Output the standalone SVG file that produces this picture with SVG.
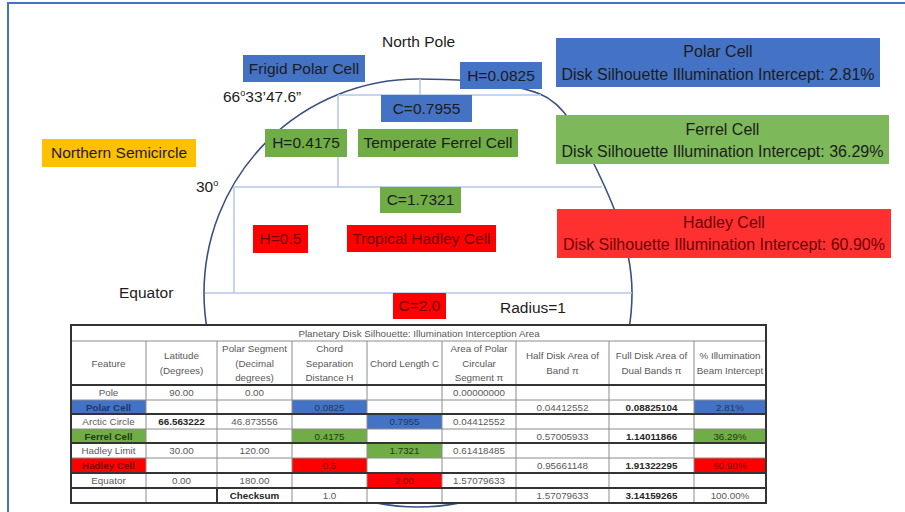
<svg xmlns="http://www.w3.org/2000/svg" width="905" height="512" viewBox="0 0 905 512">
<defs>
<style>
.t{font-family:"Liberation Sans",Arial,sans-serif;font-size:15.5px;fill:#1c1c1c;text-anchor:middle}
.tl{font-family:"Liberation Sans",Arial,sans-serif;font-size:15.5px;fill:#1c1c1c}
.big{font-size:16px}
.dr{fill:#6e0000}
.blue{fill:#4472C4}
.green{fill:#70AD47}
.lgreen{fill:#7DB85A}
.red{fill:#FF0000}
.lred{fill:#FF3030}
.yellow{fill:#FFC000}
.grid{stroke:#B4C7E7;stroke-width:1.5;fill:none}
.tb{font-family:"Liberation Sans",Arial,sans-serif;font-size:9.8px;fill:#595959;text-anchor:middle}
.b{font-weight:bold;fill:#262626}
.thin{stroke:#8c8c8c;stroke-width:1;fill:none}
.thick{stroke:#333;stroke-width:2;fill:none}
</style>
</defs>
<rect x="0" y="0" width="905" height="512" fill="#fff"/>
<path d="M8,512 V3 H905" fill="none" stroke="#4472C4" stroke-width="2"/>

<g id="connectors">
<path d="M418,79 C470,79 515,84 540,94 C565,104 580,135 592,160 C612,200 632,245 632,293 A214,214 0 0 1 418,507 A214,214 0 0 1 204,293 A214,214 0 0 1 418,79 Z" fill="none" stroke="#3A5081" stroke-width="1.6"/>
<path class="grid" d="M420,79 V95 M338,95 H541 M338,95 V187 M233,187 H602 M234,187 V293 M205,293 H632"/>
</g>

<g id="north-pole"><text class="tl" x="382" y="47">North Pole</text></g>
<g id="frigid-polar-cell"><rect class="blue" x="243" y="55" width="122" height="27"/><text class="t" x="304" y="74">Frigid Polar Cell</text></g>
<g id="arctic-angle"><text class="tl" x="223" y="102">66<tspan font-size="9" dy="-6">o</tspan><tspan dy="6">33’47.6”</tspan></text></g>
<g id="h-polar"><rect class="blue" x="460" y="62" width="82" height="27"/><text class="t" x="501" y="81">H=0.0825</text></g>
<g id="c-polar"><rect class="blue" x="381" y="95" width="91" height="27"/><text class="t" x="426.5" y="114">C=0.7955</text></g>
<g id="h-ferrel"><rect class="green" x="265" y="129" width="82" height="28"/><text class="t" x="306" y="148">H=0.4175</text></g>
<g id="temperate-ferrel"><rect class="green" x="358" y="129" width="160" height="28"/><text class="t" x="438" y="148">Temperate Ferrel Cell</text></g>
<g id="northern-semicircle"><rect class="yellow" x="42" y="139" width="154" height="28"/><text class="t" x="119" y="158">Northern Semicircle</text></g>
<g id="thirty"><text class="tl" x="196" y="192">30<tspan font-size="9" dy="-6">o</tspan></text></g>
<g id="c-ferrel"><rect class="green" x="380" y="187" width="81" height="26"/><text class="t" x="420.5" y="205">C=1.7321</text></g>
<g id="h-hadley"><rect class="red" x="253" y="225" width="55" height="28"/><text class="t dr" x="280.5" y="244">H=0.5</text></g>
<g id="tropical-hadley"><rect class="red" x="347" y="225" width="149" height="27"/><text class="t dr" x="421.5" y="244">Tropical Hadley Cell</text></g>
<g id="equator"><text class="tl" x="119" y="298">Equator</text></g>
<g id="c-hadley"><rect class="red" x="393" y="293" width="53" height="26"/><text class="t dr" x="419.5" y="311">C=2.0</text></g>
<g id="radius"><text class="tl" x="500" y="313">Radius=1</text></g>

<g id="polar-cell-summary"><rect class="blue" x="556" y="38" width="324" height="49"/><text class="t big" x="718" y="57">Polar Cell</text><text class="t big" x="718" y="80">Disk Silhouette Illumination Intercept: 2.81%</text></g>
<g id="ferrel-cell-summary"><rect class="lgreen" x="556" y="115" width="333" height="49"/><text class="t big" x="722.5" y="135">Ferrel Cell</text><text class="t big" x="722.5" y="157">Disk Silhouette Illumination Intercept: 36.29%</text></g>
<g id="hadley-cell-summary"><rect class="lred" x="557" y="209" width="334" height="49"/><text class="t big dr" x="724" y="228">Hadley Cell</text><text class="t big dr" x="724" y="250">Disk Silhouette Illumination Intercept: 60.90%</text></g>

<g id="table">
<rect x="71" y="325" width="695" height="178" fill="#fff"/>
<rect class="blue" x="71" y="400" width="75" height="14"/>
<rect class="green" x="71" y="429" width="75" height="14"/>
<rect class="red" x="71" y="458" width="75" height="15"/>
<rect class="blue" x="292" y="400" width="75" height="14"/>
<rect class="green" x="292" y="429" width="75" height="14"/>
<rect class="red" x="292" y="458" width="75" height="15"/>
<rect class="blue" x="367" y="414" width="75" height="15"/>
<rect class="green" x="367" y="443" width="75" height="15"/>
<rect class="red" x="367" y="473" width="75" height="15"/>
<rect class="blue" x="694" y="400" width="72" height="14"/>
<rect class="green" x="694" y="429" width="72" height="14"/>
<rect class="red" x="694" y="458" width="72" height="15"/>
<path class="thin" d="M71,341 H766 M71,400 H766 M71,429 H766 M71,458 H766 M146,341 V503 M217,341 V503 M292,341 V503 M367,341 V503 M442,341 V503 M516,341 V503 M609,341 V503 M694,341 V503"/>
<path class="thick" d="M71,385 H766 M71,414 H766 M71,443 H766 M71,473 H766 M71,488 H766 M217,488 V503"/>
<rect class="thick" x="71" y="325" width="695" height="178"/>
<text class="tb" x="419" y="336.5">Planetary Disk Silhouette: Illumination Interception Area</text>
<text class="tb" x="108.5" y="366.5">Feature</text>
<text class="tb" x="181.5" y="359">Latitude</text><text class="tb" x="181.5" y="374">(Degrees)</text>
<text class="tb" x="254.5" y="351.5">Polar Segment</text><text class="tb" x="254.5" y="366.5">(Decimal</text><text class="tb" x="254.5" y="381">degrees)</text>
<text class="tb" x="329.5" y="351.5">Chord</text><text class="tb" x="329.5" y="366.5">Separation</text><text class="tb" x="329.5" y="381">Distance H</text>
<text class="tb" x="404.5" y="366.5">Chord Length C</text>
<text class="tb" x="479" y="351.5">Area of Polar</text><text class="tb" x="479" y="366.5">Circular</text><text class="tb" x="479" y="381">Segment π</text>
<text class="tb" x="562.5" y="359">Half Disk Area of</text><text class="tb" x="562.5" y="374">Band π</text>
<text class="tb" x="651.5" y="359">Full Disk Area of</text><text class="tb" x="651.5" y="374">Dual Bands π</text>
<text class="tb" x="730" y="359">% Illumination</text><text class="tb" x="730" y="374">Beam Intercept</text>
<text class="tb" x="108.5" y="396">Pole</text><text class="tb" x="181.5" y="396">90.00</text><text class="tb" x="254.5" y="396">0.00</text><text class="tb" x="479" y="396">0.00000000</text>
<text class="tb b" x="108.5" y="410.5" style="fill:#1f3864">Polar Cell</text><text class="tb" x="329.5" y="410.5" style="fill:#1f3864">0.0825</text><text class="tb" x="562.5" y="410.5">0.04412552</text><text class="tb b" x="651.5" y="410.5">0.08825104</text><text class="tb" x="730" y="410.5" style="fill:#1f3864">2.81%</text>
<text class="tb" x="108.5" y="425">Arctic Circle</text><text class="tb b" x="181.5" y="425">66.563222</text><text class="tb" x="254.5" y="425">46.873556</text><text class="tb" x="404.5" y="425" style="fill:#1f3864">0.7955</text><text class="tb" x="479" y="425">0.04412552</text>
<text class="tb b" x="108.5" y="439.5" style="fill:#1e3a0e">Ferrel Cell</text><text class="tb" x="329.5" y="439.5" style="fill:#1e3a0e">0.4175</text><text class="tb" x="562.5" y="439.5">0.57005933</text><text class="tb b" x="651.5" y="439.5">1.14011866</text><text class="tb" x="730" y="439.5" style="fill:#1e3a0e">36.29%</text>
<text class="tb" x="108.5" y="454">Hadley Limit</text><text class="tb" x="181.5" y="454">30.00</text><text class="tb" x="254.5" y="454">120.00</text><text class="tb" x="404.5" y="454" style="fill:#1e3a0e">1.7321</text><text class="tb" x="479" y="454">0.61418485</text>
<text class="tb b" x="108.5" y="469" style="fill:#7a0000">Hadley Cell</text><text class="tb" x="329.5" y="469" style="fill:#7a0000">0.5</text><text class="tb" x="562.5" y="469">0.95661148</text><text class="tb b" x="651.5" y="469">1.91322295</text><text class="tb" x="730" y="469" style="fill:#7a0000">60.90%</text>
<text class="tb" x="108.5" y="484">Equator</text><text class="tb" x="181.5" y="484">0.00</text><text class="tb" x="254.5" y="484">180.00</text><text class="tb" x="404.5" y="484" style="fill:#7a0000">2.00</text><text class="tb" x="479" y="484">1.57079633</text>
<text class="tb b" x="254.5" y="499">Checksum</text><text class="tb" x="329.5" y="499">1.0</text><text class="tb" x="562.5" y="499">1.57079633</text><text class="tb b" x="651.5" y="499">3.14159265</text><text class="tb" x="730" y="499">100.00%</text>
</g>
</svg>
